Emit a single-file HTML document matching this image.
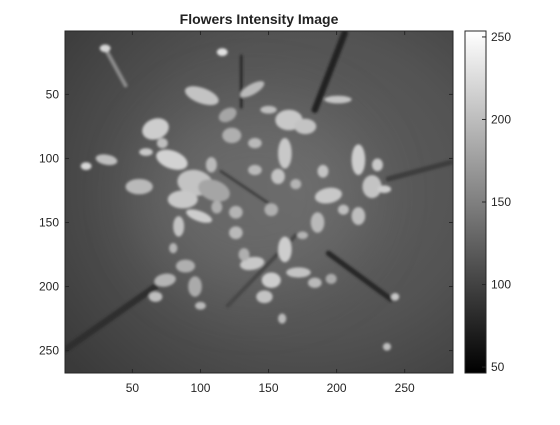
<!DOCTYPE html>
<html><head><meta charset="utf-8"><style>
body{margin:0;background:#fff;}
svg text{font-family:"Liberation Sans",Arial,sans-serif;}
</style></head><body>
<svg id="chart" width="560" height="420" viewBox="0 0 560 420" xmlns="http://www.w3.org/2000/svg">
<defs>
<radialGradient id="bgGrad" cx="0.62" cy="0.45" r="0.8">
<stop offset="0" stop-color="#626262"/><stop offset="0.55" stop-color="#535353"/><stop offset="1" stop-color="#3a3a3a"/>
</radialGradient>
<linearGradient id="cbGrad" x1="0" y1="1" x2="0" y2="0">
<stop offset="0" stop-color="#000"/><stop offset="1" stop-color="#fff"/>
</linearGradient>
<filter id="soft" x="-10%" y="-10%" width="120%" height="120%"><feGaussianBlur stdDeviation="1.3"/></filter>
<filter id="soft2" x="-50%" y="-50%" width="200%" height="200%"><feGaussianBlur stdDeviation="30"/></filter>
<clipPath id="imgClip"><rect x="65" y="31" width="388" height="342"/></clipPath>
</defs>
<text x="259" y="24" text-anchor="middle" font-size="14" font-weight="bold" fill="#222">Flowers Intensity Image</text>
<g id="image" clip-path="url(#imgClip)"></g>
<rect x="65" y="31" width="388" height="342" fill="none" stroke="#262626" stroke-width="1"/>
<g id="axes"></g>
<rect x="465" y="31" width="21" height="342" fill="url(#cbGrad)" stroke="#262626" stroke-width="1"/>
<g id="cbaxis"></g>
</svg>
<script>
const xTicks=[50,100,150,200,250];
const yTicks=[50,100,150,200,250];
const cbTicks=[50,100,150,200,250];
const xLim=[0.5,285.5], yLim=[0.5,267.5], cLim=[46.4,253.6];
// blobs: [x, y, rx, ry, rotation, intensity]
const blobX=[30,116,101,138,201,165,177,123,162,67,79,96,87,55,31,16,99,84,216,194,226,216,186,235,126,126,152,157,140,162,138,152,147,172,184,89,74,96,67,196,243,237,120,110, 60,72,108,112,150,190,205,230,175,160,132,100,80,140,170];
const blobY=[14,17,51,46,54,70,75,82,96,77,101,119,132,122,101,106,145,153,101,129,122,145,150,124,142,158,140,114,109,171,182,195,208,189,197,184,195,200,208,194,208,247,66,125, 95,88,105,138,62,110,140,105,160,225,175,215,170,88,120];
const blobRX=[4,4,13,10,10,10,8,7,5,10,12,13,11,10,8,4,10,4,5,10,7,5,5,5,5,5,5,5,5,5,9,7,6,9,5,7,8,5,5,4,3,3,7,12, 5,4,4,4,6,4,4,4,4,3,4,4,3,5,4];
const blobRY=[3,3,6,4,3,8,6,6,12,8,7,10,7,6,4,3,4,8,12,6,9,7,8,3,5,5,5,6,4,10,5,6,5,4,4,5,5,8,4,4,3,3,5,8, 3,4,6,5,3,5,4,5,3,4,5,3,4,4,4];
const blobRot=[0,0,20,-30,0,0,0,0,0,-20,20,10,0,0,10,0,20,0,0,-10,0,0,0,0,0,0,0,0,0,0,-10,0,0,0,0,0,-10,0,0,0,0,0,-30,20, 0,0,0,0,0,0,0,0,0,0,0,0,0,0,0];
const blobI=[215,225,195,185,195,200,195,175,200,205,210,195,200,185,190,215,205,195,205,200,195,190,185,205,180,185,175,195,185,205,200,205,195,195,185,175,180,170,190,170,200,190,165,165, 200,190,185,175,190,195,190,200,180,185,175,185,180,185,180];
// stems: [x1,y1,x2,y2,width,intensity]
const stemX1=[206,194,1,284,30,170,130,115];
const stemY1=[2,174,249,103,14,160,20,110];
const stemX2=[184,240,67,238,45,120,130,150];
const stemY2=[62,210,200,116,43,215,60,135];
const stemW=[5,4,5,4,3,3,2,2];
const stemI=[35,40,45,60,140,70,40,60];

const sx=v=>65+(v-xLim[0])/(xLim[1]-xLim[0])*388;
const sy=v=>31+(v-yLim[0])/(yLim[1]-yLim[0])*342;
const sc=v=>373-(v-cLim[0])/(cLim[1]-cLim[0])*342;
const NS="http://www.w3.org/2000/svg";
const g=(c)=>`rgb(${c},${c},${c})`;
const img=document.getElementById('image');
let bg=document.createElementNS(NS,'rect');
bg.setAttribute('x',65);bg.setAttribute('y',31);bg.setAttribute('width',388);bg.setAttribute('height',342);bg.setAttribute('fill','url(#bgGrad)');


img.appendChild(bg);
let glow=document.createElementNS(NS,'ellipse');
glow.setAttribute('cx',sx(140));glow.setAttribute('cy',sy(130));glow.setAttribute('rx',110);glow.setAttribute('ry',95);
glow.setAttribute('fill','#777');glow.setAttribute('opacity','0.5');glow.setAttribute('filter','url(#soft2)');


img.appendChild(glow);
const sg=document.createElementNS(NS,'g');sg.setAttribute('filter','url(#soft)');img.appendChild(sg);
stemX1.forEach((_,i)=>{
 const l=document.createElementNS(NS,'line');
 l.setAttribute('x1',sx(stemX1[i]));l.setAttribute('y1',sy(stemY1[i]));
 l.setAttribute('x2',sx(stemX2[i]));l.setAttribute('y2',sy(stemY2[i]));
 l.setAttribute('stroke',g(stemI[i]));l.setAttribute('stroke-width',stemW[i]*1.3);l.setAttribute('stroke-linecap','round');
 
 
 sg.appendChild(l);
});
blobX.forEach((_,i)=>{
 const e=document.createElementNS(NS,'ellipse');
 const cx=sx(blobX[i]),cy=sy(blobY[i]);
 e.setAttribute('cx',cx);e.setAttribute('cy',cy);
 e.setAttribute('rx',blobRX[i]*1.365);e.setAttribute('ry',blobRY[i]*1.28);
 e.setAttribute('transform',`rotate(${blobRot[i]} ${cx} ${cy})`);
 e.setAttribute('fill',g(blobI[i]));
 
 
 sg.appendChild(e);
});
const ax=document.getElementById('axes');
function tick(x1,y1,x2,y2,parent){const l=document.createElementNS(NS,'line');l.setAttribute('x1',x1);l.setAttribute('y1',y1);l.setAttribute('x2',x2);l.setAttribute('y2',y2);l.setAttribute('stroke','#262626');parent.appendChild(l);return l;}
function label(x,y,t,anchor,parent){const s=document.createElementNS(NS,'text');s.setAttribute('x',x);s.setAttribute('y',y);s.setAttribute('text-anchor',anchor);s.setAttribute('font-size','12');s.setAttribute('fill','#262626');s.textContent=t;parent.appendChild(s);return s;}
xTicks.forEach(v=>{
 const x=sx(v);
 let t=tick(x,373,x,369,ax);
 
 
 let t2=tick(x,31,x,35,ax);
 
 
 let s=label(x,392,String(v),'middle',ax);
 
 
});
yTicks.forEach(v=>{
 const y=sy(v);
 let t=tick(65,y,69,y,ax);
 
 
 let t2=tick(453,y,449,y,ax);
 
 
 let s=label(59,y+4,String(v),'end',ax);
 
 
});
const cb=document.getElementById('cbaxis');
cbTicks.forEach(v=>{
 const y=sc(v);
 let t=tick(486,y,482,y,cb);
 
 
 let s=label(491,y+4,String(v),'start',cb);
 
 
});
</script>
</body></html>
